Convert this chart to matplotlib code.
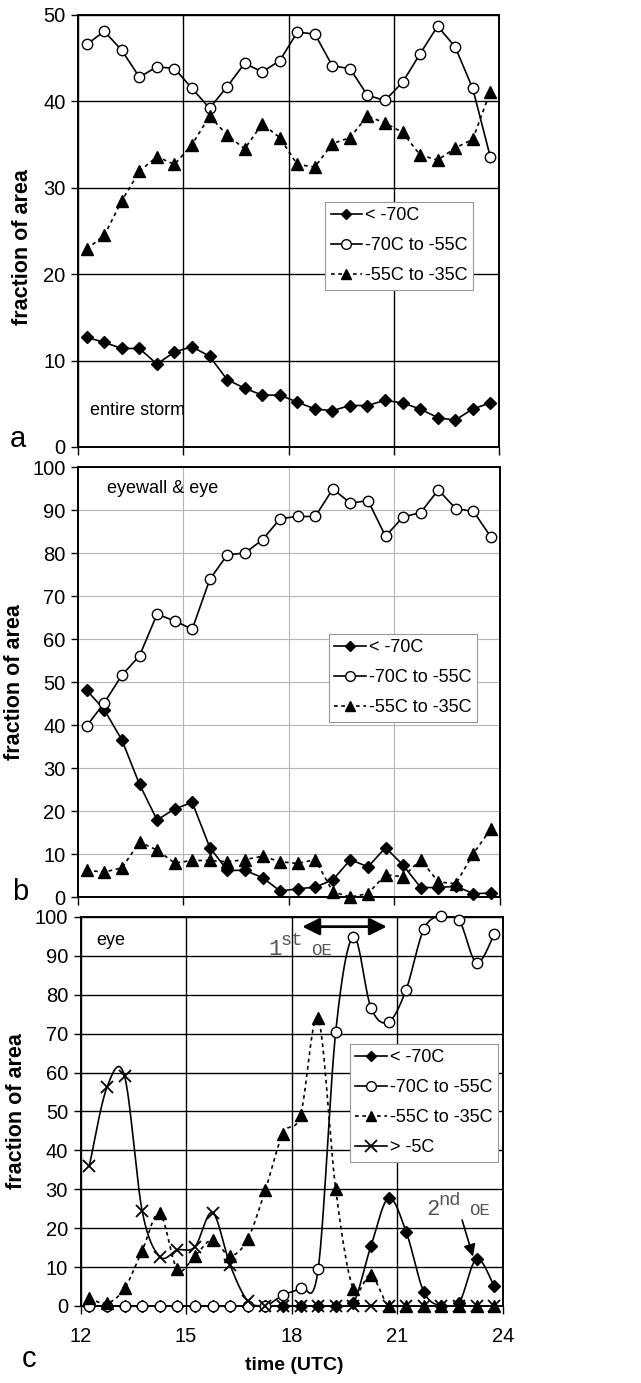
import matplotlib
matplotlib.use("Agg")
import matplotlib.pyplot as plt
import numpy as np
from matplotlib.lines import Line2D

plt.rcParams.update({
    "font.family": ["Liberation Sans", "DejaVu Sans"],
    "font.size": 14,
    "axes.unicode_minus": False,
})

# ---- data -----------------------------------------------------------------
TIME = [12.25, 12.75, 13.25, 13.75, 14.25, 14.75, 15.25, 15.75,
        16.25, 16.75, 17.25, 17.75, 18.25, 18.75, 19.25, 19.75,
        20.25, 20.75, 21.25, 21.75, 22.25, 22.75, 23.25, 23.75]

LABELS = ["< -70C", "-70C to -55C", "-55C to -35C", "> -5C"]

# (a) entire storm
a_cold = [12.7, 12.1, 11.4, 11.4, 9.6, 11.0, 11.6, 10.5, 7.8, 6.8, 6.0, 6.0,
          5.2, 4.4, 4.2, 4.8, 4.8, 5.4, 5.1, 4.4, 3.4, 3.1, 4.4, 5.1]
a_mid = [46.6, 48.1, 45.9, 42.8, 44.0, 43.8, 41.5, 39.2, 41.7, 44.4, 43.4, 44.7,
         48.0, 47.8, 44.1, 43.8, 40.7, 40.1, 42.2, 45.5, 48.7, 46.3, 41.5, 33.6]
a_warm = [22.9, 24.5, 28.5, 31.9, 33.6, 32.7, 35.0, 38.3, 36.1, 34.5, 37.4, 35.8,
          32.7, 32.4, 35.1, 35.8, 38.3, 37.5, 36.4, 33.8, 33.2, 34.6, 35.6, 41.1]

# (b) eyewall & eye
b_cold = [48.1, 43.5, 36.5, 26.2, 17.9, 20.5, 22.0, 11.5, 6.2, 6.2, 4.5, 1.4,
          1.9, 2.3, 4.0, 8.7, 7.0, 11.5, 7.4, 2.2, 2.2, 2.5, 0.8, 0.9]
b_mid = [39.8, 45.2, 51.6, 56.1, 65.8, 64.2, 62.3, 73.9, 79.6, 80.0, 83.1, 88.0,
         88.5, 88.5, 94.9, 91.6, 92.2, 83.9, 88.4, 89.4, 94.7, 90.3, 89.7, 83.7]
b_warm = [6.2, 5.8, 6.8, 12.8, 10.9, 7.9, 8.5, 8.5, 8.2, 8.7, 9.5, 8.2,
          7.8, 8.7, 1.2, 0.0, 0.8, 5.2, 4.7, 8.7, 3.5, 3.1, 10.1, 15.9]

# (c) eye
c_cold = [0, 0, 0, 0, 0, 0, 0, 0, 0, 0, 0, 0,
          0, 0, 0, 0.7, 15.4, 27.7, 19.1, 3.7, 0, 0.7, 12.1, 5.1]
c_mid = [0, 0, 0, 0, 0, 0, 0, 0, 0, 0, 0, 2.8,
         4.7, 9.4, 70.5, 94.9, 76.7, 73.0, 81.3, 96.8, 100.3, 99.3, 88.2, 95.5]
c_warm = [2.0, 0.7, 4.5, 14.2, 23.8, 9.4, 12.9, 17.0, 12.9, 17.2, 29.8, 44.3,
          49.1, 73.9, 30.0, 4.4, 8.0, 0, 0, 0, 0, 0, 0, 0]
c_eye = [36.0, 56.2, 59.1, 24.5, 12.7, 14.4, 15.2, 24.0, 10.5, 1.3, 0, 0,
         0, 0, 0, 0, 0, 0, 0, 0, 0, 0, 0, 0]

STYLES = [
    dict(marker="D", ms=6, mfc="black", mec="black", ls="-"),
    dict(marker="o", ms=7.5, mfc="white", mec="black", ls="-"),
    dict(marker="^", ms=8, mfc="black", mec="black", ls=(0, (2.2, 2.2))),
    dict(marker="x", ms=9, mfc="none", mec="black", ls="-", mew=1.3),
]


def smooth(x, y, n=24):
    # Excel-like smoothed line: Catmull-Rom as cubic Bezier segments
    x = np.asarray(x, float)
    y = np.asarray(y, float)
    px = np.concatenate([[x[0]], x, [x[-1]]])
    py = np.concatenate([[y[0]], y, [y[-1]]])
    t = np.linspace(0, 1, n)[:, None]
    xs, ys = [], []
    for i in range(1, len(px) - 2):
        p0 = np.array([px[i], py[i]])
        p1 = np.array([px[i + 1], py[i + 1]])
        c0 = p0 + (p1 - np.array([px[i - 1], py[i - 1]])) / 6
        c1 = p1 - (np.array([px[i + 2], py[i + 2]]) - p0) / 6
        b = ((1 - t) ** 3 * p0 + 3 * (1 - t) ** 2 * t * c0
             + 3 * (1 - t) * t ** 2 * c1 + t ** 3 * p1)
        xs.append(b[:, 0])
        ys.append(b[:, 1])
    return np.concatenate(xs), np.concatenate(ys)


def draw(ax, series, smoothed=False):
    handles = []
    for vals, st, lab in zip(series, STYLES, LABELS):
        if smoothed:
            sx, sy = smooth(TIME, vals)
        else:
            sx, sy = TIME, vals
        ax.plot(sx, sy, color="black", lw=1.2, ls=st["ls"], zorder=3)
        ax.plot(TIME, vals, ls="none", marker=st["marker"], ms=st["ms"],
                mfc=st["mfc"], mec=st["mec"], mew=st.get("mew", 1.0),
                zorder=4, clip_on=False)
        handles.append(Line2D([], [], color="black", lw=1.2, ls=st["ls"],
                              marker=st["marker"], ms=st["ms"] - 0.5,
                              mfc=st["mfc"], mec=st["mec"],
                              mew=st.get("mew", 1.0), label=lab))
    return handles


def style_axes(ax, ymax, grid_color, grid_lw, xlabels=False):
    ax.set_xlim(12, 24)
    ax.set_ylim(0, ymax)
    ax.set_xticks([12, 15, 18, 21, 24])
    ax.set_yticks(np.arange(0, ymax + 1, 10))
    if not xlabels:
        ax.set_xticklabels([])
    ax.grid(True, color=grid_color, lw=grid_lw, zorder=0)
    ax.set_axisbelow(True)
    for s in ax.spines.values():
        s.set_linewidth(1.4)
    ax.tick_params(axis="y", direction="out", length=5, width=1, pad=4,
                   labelsize=14.5)
    ax.tick_params(axis="x", direction="out", length=6, width=1, pad=9,
                   labelsize=14.5)
    ax.set_ylabel("fraction of area", fontweight="bold", fontsize=15.5)


def add_legend(ax, handles, x, y):
    leg = ax.legend(handles=handles, loc="upper left", bbox_to_anchor=(x, y),
                    borderaxespad=0, fontsize=13, handlelength=1.75,
                    handletextpad=0.15, labelspacing=0.72, borderpad=0.3,
                    fancybox=False, framealpha=1, edgecolor="#999999")
    leg.get_frame().set_linewidth(0.8)
    leg.set_zorder(6)


fig = plt.figure(figsize=(6.41, 13.83), dpi=100)
ax_a = fig.add_axes([0.1217, 0.6768, 0.6568, 0.3124])
ax_b = fig.add_axes([0.1217, 0.3514, 0.6580, 0.3109])
ax_c = fig.add_axes([0.1256, 0.0557, 0.6590, 0.2813])

# ---- (a) ------------------------------------------------------------------
style_axes(ax_a, 50, "black", 1.0)
h = draw(ax_a, [a_cold, a_mid, a_warm])
add_legend(ax_a, h, 0.587, 0.567)
ax_a.text(12.34, 3.7, "entire storm", fontsize=13, va="baseline")
ax_a.yaxis.set_label_coords(-0.107, 0.463)

# ---- (b) ------------------------------------------------------------------
style_axes(ax_b, 100, "#b5b5b5", 0.8)
h = draw(ax_b, [b_cold, b_mid, b_warm])
add_legend(ax_b, h, 0.595, 0.612)
ax_b.text(12.82, 94.0, "eyewall & eye", fontsize=13, va="baseline")
ax_b.yaxis.set_label_coords(-0.126, 0.5)

# ---- (c) ------------------------------------------------------------------
style_axes(ax_c, 100, "black", 1.0, xlabels=True)
h = draw(ax_c, [c_cold, c_mid, c_warm, c_eye], smoothed=True)
add_legend(ax_c, h, 0.638, 0.674)
ax_c.text(12.44, 92.8, "eye", fontsize=13, va="baseline")
ax_c.yaxis.set_label_coords(-0.127, 0.5)
ax_c.set_xlabel("time (UTC)", fontweight="bold", fontsize=14)
ax_c.xaxis.set_label_coords(0.505, -0.131)

mono = ["Liberation Mono", "DejaVu Sans Mono"]
grey = "#555555"
ax_c.annotate("", xy=(18.3, 97.5), xytext=(20.7, 97.5),
              arrowprops=dict(arrowstyle="<|-|>", color="black", lw=2,
                              mutation_scale=26, shrinkA=0, shrinkB=0))
ax_c.text(17.33, 90.2, "1", family=mono, fontsize=16, color=grey, va="baseline")
ax_c.text(17.68, 92.8, "st", family=mono, fontsize=13.5, color=grey, va="baseline")
ax_c.text(18.55, 90.2, "OE", family=mono, fontsize=12.5, color=grey, va="baseline")
ax_c.text(21.82, 23.4, "2", family=mono, fontsize=16, color=grey, va="baseline")
ax_c.text(22.15, 26.0, "nd", family=mono, fontsize=13.5, color=grey, va="baseline")
ax_c.text(23.03, 23.4, "OE", family=mono, fontsize=12.5, color=grey, va="baseline")
ax_c.annotate("", xy=(23.15, 12.7), xytext=(22.84, 22.1),
              arrowprops=dict(arrowstyle="-|>", color="black", lw=1.2,
                              mutation_scale=18, shrinkA=0, shrinkB=0))

# panel letters
fig.text(10 / 641, 1 - 447 / 1383, "a", fontsize=21, va="baseline")
fig.text(12 / 641, 1 - 900 / 1383, "b", fontsize=21, va="baseline")
fig.text(22 / 641, 1 - 1367 / 1383, "c", fontsize=21, va="baseline")

fig.savefig("out.png", dpi=100)
